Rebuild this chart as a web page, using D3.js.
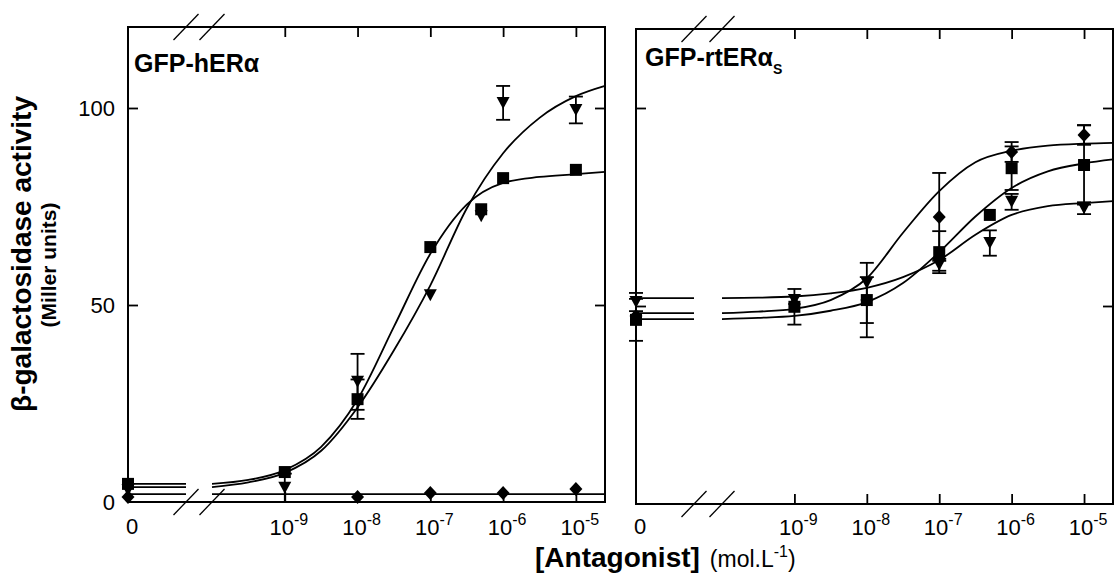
<!DOCTYPE html>
<html><head><meta charset="utf-8">
<script src="https://cdn.jsdelivr.net/npm/d3@7"></script>
<style>
body{margin:0;background:#fff}
svg{display:block;background:#fff}
text{font-family:Arial,"Liberation Sans",sans-serif;fill:#000}
</style>
</head><body>
<svg id="chart" width="1116" height="574"></svg>
<script>
// ---------- data ----------
const concentrations = [0, 1e-9, 1e-8, 1e-7, 5e-7, 1e-6, 1e-5];   // mol/L (0 = no antagonist)
const xTickValues = [1e-9, 1e-8, 1e-7, 1e-6, 1e-5];
const xTickExponents = ["-9", "-8", "-7", "-6", "-5"];
const yTickValues = [0, 50, 100];
const yTickLabels = ["0", "50", "100"];

// Panel 1: GFP-hERα  (null = not measured)
const hER_square       = [4.6, 7.6, 26.1, 64.7, 74.3, 82.2, 84.3];
const hER_square_err   = [0.8, 0.8, 5.0, 1.0, 1.0, 1.0, 1.2];
const hER_triangle     = [3.0, 3.6, 30.5, 52.5, 72.5, 101.3, 99.5];
const hER_triangle_err = [0.8, 3.6, 7.1, 1.0, 1.0, 4.3, 3.4];
const hER_diamond      = [1.3, null, 1.3, 2.3, null, 2.3, 3.3];
const hER_diamond_err  = [0.5, null, 0.5, 0.5, null, 0.5, 1.0];

// Panel 2: GFP-rtERαS
const rt_square        = [46.5, 49.8, 51.5, 63.6, 73.0, 84.8, 85.6];
const rt_square_err    = [5.3, 4.5, 5.8, 5.3, 1.0, 5.5, 10.0];
const rt_triangle      = [51.0, 51.5, 55.8, 60.4, 65.9, 76.3, 74.7];
const rt_triangle_err  = [2.3, 0.8, 0.8, 1.5, 3.2, 2.0, 1.5];
const rt_diamond       = [47.5, 50.5, 51.5, 72.5, null, 88.9, 93.2];
const rt_diamond_err   = [1.0, 1.0, 9.4, 11.1, null, 2.5, 2.5];

// fitted curves at these log10 concentrations
const curveLogConc = [-10, -9.5, -9, -8.5, -8, -7.5, -7, -6.5, -6, -5.5, -5, -4.6];
const hER_square_fit   = [4.6, 5.6, 8.1, 14, 26, 44.5, 63, 75.5, 81, 82.5, 83.2, 83.8];
const hER_triangle_fit = [3.8, 5, 7.4, 13, 24, 38.5, 55, 74.5, 88.5, 97.5, 103, 105.6];
const hER_diamond_fit  = [2, 2, 2, 2, 2, 2, 2, 2, 2, 2, 2, 2];
const rt_diamond_fit   = [48.2, 48.6, 49.3, 51.5, 57, 68.5, 79, 86.3, 89.2, 90.5, 91, 91.2];
const rt_square_fit    = [46.7, 47, 47.5, 48.8, 51, 55.8, 63.6, 72.6, 79.8, 84, 86, 87];
const rt_triangle_fit  = [52, 52.1, 52.4, 53.2, 54.6, 57.3, 61.6, 68, 73, 75.2, 76, 76.5];

const panelTitles = ["GFP-hERα", "GFP-rtERα"];
const panelTitleSubs = ["", "S"];

// ---------- layout ----------
const panels = [
  {x0:128, x1:605, top:27, bottom:502, y100:108, brk1:186, brk2:212, title:panelTitles[0], sub:panelTitleSubs[0], tx:134, ty:72, yLabels:true,
   series:[
     {shape:"square",   v:hER_square,   e:hER_square_err,   fit:hER_square_fit},
     {shape:"triangle", v:hER_triangle, e:hER_triangle_err, fit:hER_triangle_fit},
     {shape:"diamond",  v:hER_diamond,  e:hER_diamond_err,  fit:hER_diamond_fit}]},
  {x0:636, x1:1113, top:29, bottom:504, y100:108, brk1:694, brk2:722, title:panelTitles[1], sub:panelTitleSubs[1], tx:645, ty:66, yLabels:false,
   series:[
     {shape:"square",   v:rt_square,   e:rt_square_err,   fit:rt_square_fit},
     {shape:"triangle", v:rt_triangle, e:rt_triangle_err, fit:rt_triangle_fit},
     {shape:"diamond",  v:rt_diamond,  e:rt_diamond_err,  fit:rt_diamond_fit}]}
];

const svg = d3.select("#chart");
svg.append("rect").attr("width",1116).attr("height",574).attr("fill","#fff");

function markerPath(shape){
  if(shape==="square") return "M-6,-6H6V6H-6Z";
  if(shape==="triangle") return "M-6.5,-6L6.5,-6L0,6Z";
  return "M0,-7L6.5,0L0,7L-6.5,0Z";
}

panels.forEach(p=>{
  const g = svg.append("g");
  const y = d3.scaleLinear().domain([0,100]).range([p.bottom, p.y100]);
  const x = d3.scaleLog().domain([1e-10, Math.pow(10,-4.6)]).range([p.brk2, p.x1]);
  const xp = c => c===0 ? p.x0 : x(c);

  // axes (ticks inward)
  const styleAxis = sel => { sel.select(".domain").remove(); sel.selectAll("line").attr("stroke","#000").attr("stroke-width",1.8); sel.selectAll("text").remove(); };
  g.append("g").attr("transform",`translate(0,${p.bottom})`).call(d3.axisBottom(x).tickValues(xTickValues).tickSize(-10)).call(styleAxis);
  g.append("g").attr("transform",`translate(0,${p.top})`).call(d3.axisTop(x).tickValues(xTickValues).tickSize(-10)).call(styleAxis);
  g.append("g").attr("transform",`translate(${p.x0},0)`).call(d3.axisLeft(y).tickValues([50,100]).tickSize(-10)).call(styleAxis);
  g.append("g").attr("transform",`translate(${p.x1},0)`).call(d3.axisRight(y).tickValues([50,100]).tickSize(-10)).call(styleAxis);

  // frame
  g.append("rect").attr("x",p.x0).attr("y",p.top).attr("width",p.x1-p.x0).attr("height",p.bottom-p.top)
    .attr("fill","none").attr("stroke","#000").attr("stroke-width",2);

  // axis breaks
  [p.brk1, p.brk2].forEach(bx=>{
    [p.top, p.bottom].forEach(by=>{
      g.append("line").attr("x1",bx-12.5).attr("y1",by+13).attr("x2",bx+12.5).attr("y2",by-13)
        .attr("stroke","#000").attr("stroke-width",1.3);
    });
  });

  // x tick labels
  g.append("text").attr("x",p.x0+4).attr("y",534).attr("text-anchor","middle").attr("font-size",22).text("0");
  xTickValues.forEach((t,i)=>{
    const tx = g.append("text").attr("x",x(t)+4).attr("y",535).attr("text-anchor","middle").attr("font-size",22);
    tx.append("tspan").text("10");
    tx.append("tspan").attr("dy",-10).attr("font-size",16).text(xTickExponents[i]);
  });
  // y tick labels
  if(p.yLabels){
    yTickValues.forEach((t,i)=>{
      g.append("text").attr("x",115).attr("y",y(t)).attr("dy","0.36em").attr("text-anchor","end").attr("font-size",22).text(yTickLabels[i]);
    });
  }

  // title
  const tt = g.append("text").attr("x",p.tx).attr("y",p.ty).attr("font-size",25).attr("font-weight","bold");
  tt.append("tspan").text(p.title);
  if(p.sub) tt.append("tspan").attr("dy",8).attr("font-size",14).text(p.sub);

  // fitted curves
  const line = d3.line().x(d=>x(Math.pow(10,d[0]))).y(d=>y(d[1])).curve(d3.curveMonotoneX);
  p.series.forEach(s=>{
    const pts = curveLogConc.map((c,i)=>[c, s.fit[i]]);
    g.append("path").attr("d",line(pts)).attr("fill","none").attr("stroke","#000").attr("stroke-width",1.8);
    g.append("line").attr("x1",p.x0).attr("x2",p.brk1).attr("y1",y(s.fit[0])).attr("y2",y(s.fit[0]))
      .attr("stroke","#000").attr("stroke-width",1.8);
  });

  // error bars and markers
  p.series.forEach(s=>{
    concentrations.forEach((c,i)=>{
      const v = s.v[i]; if(v===null) return;
      const e = s.e[i];
      const cx = xp(c);
      if(e>1.2){
        g.append("line").attr("x1",cx).attr("x2",cx).attr("y1",y(v-e)).attr("y2",y(v+e)).attr("stroke","#000").attr("stroke-width",1.8);
        [v-e, v+e].forEach(ev=>g.append("line").attr("x1",cx-7).attr("x2",cx+7).attr("y1",y(ev)).attr("y2",y(ev)).attr("stroke","#000").attr("stroke-width",1.8));
      }
      g.append("path").attr("d",markerPath(s.shape)).attr("transform",`translate(${cx},${y(v)})`).attr("fill","#000");
    });
  });
});

// axis titles
const yt = svg.append("g").attr("transform","translate(31,254) rotate(-90)");
yt.append("text").attr("text-anchor","middle").attr("font-size",28).attr("font-weight","bold").text("β-galactosidase activity");
const yt2 = svg.append("g").attr("transform","translate(56,265) rotate(-90)");
yt2.append("text").attr("text-anchor","middle").attr("font-size",21).attr("font-weight","bold").text("(Miller units)");

const xt = svg.append("text").attr("x",535).attr("y",567);
xt.append("tspan").attr("font-size",28).attr("font-weight","bold").text("[Antagonist]");
xt.append("tspan").attr("font-size",23).attr("dx",10).text("(mol.L");
xt.append("tspan").attr("font-size",16).attr("dy",-10).text("-1");
xt.append("tspan").attr("font-size",23).attr("dy",10).text(")");
</script>
</body></html>
